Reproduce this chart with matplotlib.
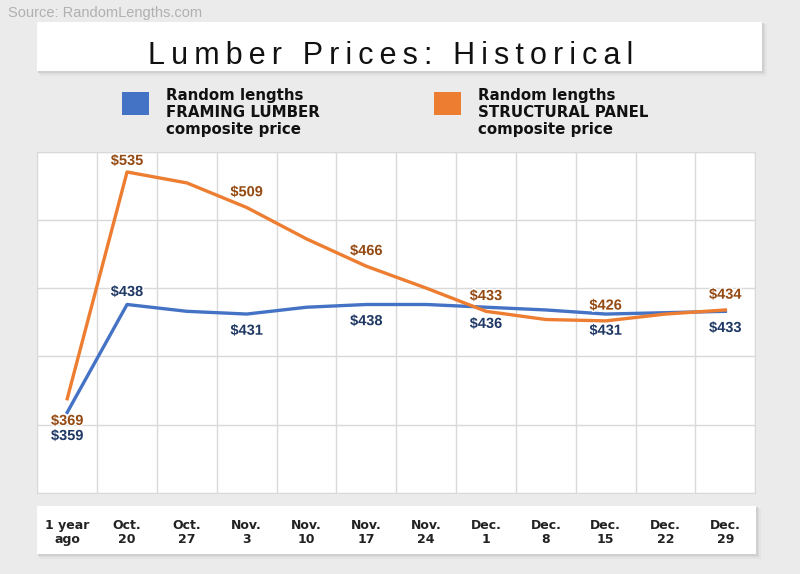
import numpy as np
import matplotlib.pyplot as plt
import matplotlib.patheffects as pe
from matplotlib import transforms
from matplotlib.patches import Rectangle

# weekly composite prices, $ per unit
dates = ["1 year\nago", "Oct.\n20", "Oct.\n27", "Nov.\n3", "Nov.\n10", "Nov.\n17",
         "Nov.\n24", "Dec.\n1", "Dec.\n8", "Dec.\n15", "Dec.\n22", "Dec.\n29"]
framing = [359, 438, 433, 431, 436, 438, 438, 436, 434, 431, 432, 433]
panel = [369, 535, 527, 509, 486, 466, 450, 433, 427, 426, 431, 434]
labelled = [0, 1, 3, 5, 7, 9, 11]

framing_name = "Random lengths\nFRAMING LUMBER\ncomposite price"
panel_name = "Random lengths\nSTRUCTURAL PANEL\ncomposite price"

blue, orange = "#4472c4", "#ed7d31"
blue_txt, orange_txt = "#1f3864", "#944a12"
W, H = 800, 574

fig = plt.figure(figsize=(W / 100, H / 100), dpi=100, facecolor="#ebebeb")


def px_rect(x0, y0, x1, y1, **kw):
    # rectangle given in pixel coords (origin top-left)
    return Rectangle((x0 / W, 1 - y1 / H), (x1 - x0) / W, (y1 - y0) / H,
                     transform=fig.transFigure, edgecolor="none", **kw)


def card(x0, y0, x1, y1):
    for d, c in [(5, "#e4e4e4"), (3, "#dadada"), (1.5, "#d0d0d0")]:
        fig.patches.append(px_rect(x0 + d / 2, y0 + d / 2, x1 + d, y1 + d, facecolor=c, zorder=0))
    fig.patches.append(px_rect(x0, y0, x1, y1, facecolor="white", zorder=1))


fig.text(8 / W, 1 - 12.5 / H, "Source: RandomLengths.com", color="#b0b0b0", fontsize=10.5,
         family="Liberation Sans", ha="left", va="center")

# title card
card(37, 22, 762, 71)
fig.text(391 / W, 1 - 64 / H, "\u2009".join("Lumber Prices: Historical"), fontsize=22,
         family=["Liberation Sans", "DejaVu Sans"], ha="center", va="baseline", color="#111111", zorder=2)

# legend
for x0, col, name in [(122, blue, framing_name), (434, orange, panel_name)]:
    fig.patches.append(px_rect(x0, 92, x0 + 27, 115, facecolor=col, zorder=1))
    fig.text((x0 + 44) / W, 1 - 112.5 / H, name, fontsize=10.8, fontweight="bold", family="DejaVu Sans",
             ha="left", va="center", linespacing=1.2, color="#111111")

# plot area
ax = fig.add_axes([37.3 / W, 1 - 493 / H, 718 / W, 341.5 / H])
ax.set_facecolor("white")
x = np.arange(len(dates))
ax.plot(x, framing, color=blue, lw=2.4, solid_joinstyle="round", zorder=3)
ax.plot(x, panel, color=orange, lw=2.4, solid_joinstyle="round", zorder=4)

ax.set_xlim(-0.5, len(dates) - 0.5)
ax.set_ylim(300, 550)
ax.set_xticks(np.arange(-0.5, len(dates), 1))
ax.set_yticks(np.arange(300, 551, 50))
ax.tick_params(length=0, labelbottom=False, labelleft=False)
ax.grid(color="#d9d9d9", lw=1)
for s in ax.spines.values():
    s.set_color("#d9d9d9")

halo = [pe.withStroke(linewidth=2, foreground="white")]
for i in labelled:
    dy_p = -16 if i == 0 else (8 if i == 1 else 11)
    dy_f = 9 if i == 1 else (-17 if i == 0 else -12)
    ax.annotate(f"${panel[i]}", (x[i], panel[i]), xytext=(0, dy_p), textcoords="offset points",
                ha="center", va="center", fontsize=10.5, fontweight="bold", family="Liberation Sans",
                color=orange_txt, path_effects=halo, zorder=5)
    ax.annotate(f"${framing[i]}", (x[i], framing[i]), xytext=(0, dy_f), textcoords="offset points",
                ha="center", va="center", fontsize=10.5, fontweight="bold", family="Liberation Sans",
                color=blue_txt, path_effects=halo, zorder=5)

# category labels in their own card below the plot
card(37, 506, 756, 554)
trans = transforms.blended_transform_factory(ax.transData, fig.transFigure)
for i, lab in enumerate(dates):
    fig.text(x[i], 1 - 532.5 / H, lab, transform=trans, ha="center", va="center", fontsize=9,
             fontweight="bold", family="DejaVu Sans", color="#222222", linespacing=1.15, zorder=2)

fig.savefig("out.png", dpi=100, facecolor=fig.get_facecolor())
